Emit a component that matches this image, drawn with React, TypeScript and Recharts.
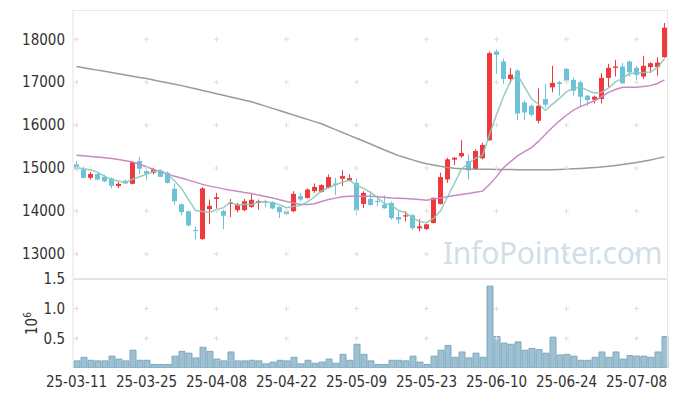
import React from "react";
import { ComposedChart, Bar, Line, XAxis, YAxis, ReferenceDot, ReferenceLine } from "recharts";

const FONT = "'Liberation Sans Narrow', 'DejaVu Sans Condensed', 'Noto Sans', sans-serif";
const RED = "#f0393d";
const BLUE = "#6cc2d8";

const dates = ["25-03-11","25-03-12","25-03-13","25-03-14","25-03-17","25-03-18","25-03-19","25-03-20","25-03-21","25-03-24","25-03-25","25-03-26","25-03-27","25-03-28","25-03-31","25-04-01","25-04-02","25-04-03","25-04-04","25-04-07","25-04-08","25-04-09","25-04-10","25-04-11","25-04-14","25-04-15","25-04-16","25-04-17","25-04-18","25-04-21","25-04-22","25-04-23","25-04-24","25-04-25","25-04-28","25-04-29","25-04-30","25-05-02","25-05-07","25-05-08","25-05-09","25-05-12","25-05-13","25-05-14","25-05-15","25-05-16","25-05-19","25-05-20","25-05-21","25-05-22","25-05-23","25-05-26","25-05-27","25-05-28","25-05-29","25-05-30","25-06-02","25-06-04","25-06-05","25-06-09","25-06-10","25-06-11","25-06-12","25-06-13","25-06-16","25-06-17","25-06-18","25-06-19","25-06-20","25-06-23","25-06-24","25-06-25","25-06-26","25-06-27","25-06-30","25-07-01","25-07-02","25-07-03","25-07-04","25-07-07","25-07-08","25-07-09","25-07-10","25-07-11","25-07-14"];

const tickDates = ["25-03-11","25-03-25","25-04-08","25-04-22","25-05-09","25-05-23","25-06-10","25-06-24","25-07-08"];
const priceTicks = [13000, 14000, 15000, 16000, 17000, 18000];
const volumeTicks = [500000, 1000000, 1500000];

const opens = [15087,14970,14773,14860,14796,14759,14579,14703,14633,15164,
14930,14890,14930,14890,14516,14158,13994,13560,13346,14040,
14280,14000,14170,14020,14020,14095,14189,14228,14210,14090,
13994,13994,14345,14305,14462,14446,14540,14640,14750,14712,
14656,14165,14282,14235,14150,14189,13860,13880,13900,13596,
13580,13720,14165,14735,15195,15273,15164,14970,15227,15648,
17714,17480,17075,17270,16528,16450,16100,16607,16880,16997,
17310,17052,16997,16685,16591,16607,17099,17333,17365,17480,
17333,17130,17350,17350,17580];

const highs = [15164,15030,14906,14876,14843,14782,14672,14735,15164,15257,
14970,15007,14953,14923,14642,14174,14010,13640,14555,14267,
14422,14033,14280,14189,14280,14410,14267,14267,14228,14111,
14033,14462,14422,14525,14640,14625,14852,14773,14953,14852,
14760,14462,14462,14360,14360,14220,13994,13994,13930,13814,
13700,14320,14890,15241,15250,15648,15320,15437,15592,17714,
17761,17543,17333,17300,16568,16475,16855,16958,17382,17030,
17330,17100,17030,16700,16685,17207,17427,17520,17450,17504,
17380,17614,17464,17580,18376];

const lows = [14930,14759,14735,14712,14672,14525,14532,14633,14619,14853,
14712,14853,14789,14642,14150,13900,13643,13340,13330,13700,
13994,13580,13860,13970,13994,14072,14033,14090,14040,13837,
13900,13970,14228,14290,14422,14430,14525,14368,14579,14700,
13900,14072,14120,14111,14050,13800,13697,13760,13560,13526,
13560,13710,14150,14656,15070,15241,14735,14953,15203,15632,
17193,16958,16973,16116,16116,16200,16037,16411,16762,16685,
16997,16685,16450,16450,16505,16505,16880,17130,16958,17130,
16958,17075,17214,17150,17566];

const closes = [14970,14773,14860,14735,14689,14586,14633,14642,15140,14984,
14867,14970,14796,14656,14228,13977,13666,13540,14525,14120,
14320,13890,14190,14150,14228,14260,14228,14200,14060,13970,
13930,14399,14267,14500,14560,14602,14790,14610,14813,14766,
14017,14422,14141,14220,14064,13837,13800,13900,13603,13643,
13690,14305,14790,15203,15241,15351,14946,15398,15538,17675,
17636,17075,17176,16270,16294,16240,16450,16474,16982,16958,
17036,16800,16660,16584,16661,17099,17333,17365,16973,17230,
17170,17380,17441,17457,18268];

const ma5 = [15007,14985,14953,14906,14805,14729,14701,14657,14738,14797,
14853,14921,14951,14855,14703,14525,14265,14013,13987,13966,
14034,14079,14209,14134,14156,14144,14211,14213,14195,14144,
14078,14112,14125,14213,14331,14466,14544,14612,14675,14716,
14599,14526,14432,14313,14173,14137,14012,13964,13841,13757,
13727,13828,14006,14326,14646,14978,15106,15228,15295,15782,
16239,16664,17020,17166,16890,16611,16486,16346,16488,16621,
16780,16850,16887,16808,16748,16761,16867,17008,17086,17200,
17214,17224,17239,17336,17543];

const ma20 = [15297,15285,15270,15255,15241,15220,15200,15170,15140,15090,
15030,14970,14910,14853,14810,14770,14719,14672,14620,14579,
14550,14515,14485,14460,14430,14407,14370,14340,14305,14260,
14220,14189,14150,14150,14170,14220,14267,14300,14330,14345,
14345,14345,14345,14330,14318,14305,14297,14290,14282,14270,
14250,14280,14305,14330,14360,14384,14410,14435,14462,14618,
14800,15007,15150,15281,15380,15475,15620,15788,15950,16100,
16230,16350,16430,16500,16568,16660,16762,16830,16880,16880,
16880,16900,16919,16970,17052];

const ma120 = [17363,17335,17308,17280,17252,17223,17195,17167,17139,17111,
17083,17050,17017,16985,16952,16919,16882,16845,16807,16770,
16732,16694,16656,16619,16581,16544,16493,16442,16390,16339,
16287,16236,16184,16133,16081,16030,15963,15896,15829,15762,
15695,15630,15560,15490,15420,15355,15290,15240,15190,15140,
15100,15070,15040,15015,14995,14985,14978,14975,14972,14970,
14968,14966,14965,14963,14962,14961,14960,14960,14963,14968,
14975,14982,14990,15000,15010,15025,15040,15060,15080,15105,
15130,15160,15190,15225,15260];

const volumes = [120000,180000,130000,120000,120000,200000,150000,120000,300000,130000,
130000,60000,60000,60000,200000,280000,250000,170000,350000,280000,
150000,120000,270000,120000,120000,130000,120000,70000,100000,130000,
120000,180000,70000,130000,80000,100000,150000,80000,230000,130000,
400000,230000,120000,60000,60000,130000,130000,120000,200000,100000,
60000,200000,300000,380000,180000,270000,170000,250000,180000,1380000,
530000,420000,400000,440000,300000,330000,310000,250000,520000,220000,
230000,200000,130000,130000,180000,270000,180000,270000,150000,210000,
200000,200000,180000,270000,530000];

const rows = dates.map((date, i) => ({
  date,
  open: opens[i],
  high: highs[i],
  low: lows[i],
  close: closes[i],
  range: [lows[i], highs[i]],
  ma5: ma5[i],
  ma20: ma20[i],
  ma120: ma120[i],
  volume: volumes[i],
}));

const Candle = (props: any) => {
  const { x, y, width, height, payload } = props;
  if (x == null || y == null || !payload) return null;
  const { open, close, high, low } = payload;
  const top = Math.min(y, y + height);
  const h = Math.abs(height);
  const k = high - low !== 0 ? h / (high - low) : 0;
  const yOf = (v: number) => top + (high - v) * k;
  const up = close >= open;
  const color = up ? RED : BLUE;
  const bTop = yOf(Math.max(open, close));
  const bBot = yOf(Math.min(open, close));
  const cx = x + width / 2;
  return (
    <g>
      <line x1={cx} x2={cx} y1={top} y2={top + h} stroke={color} strokeWidth={1} />
      <rect x={x} y={bTop} width={width} height={Math.max(1.2, bBot - bTop)} fill={color} />
    </g>
  );
};

const Plus = (p: any) => {
  const { cx, cy } = p;
  if (cx == null || cy == null) return null;
  return (
    <g stroke="#dedede" strokeWidth={1}>
      <line x1={cx - 2.5} x2={cx + 2.5} y1={cy} y2={cy} />
      <line x1={cx} x2={cx} y1={cy - 2.5} y2={cy + 2.5} />
    </g>
  );
};

const tickStyle = { fontSize: 15, fill: "#333", fontFamily: FONT };

export default function App() {
  return (
    <div style={{ position: "absolute", left: 0, top: 0, width: 677, height: 396, background: "#fff", overflow: "hidden" }}>
      <div
        style={{
          position: "absolute",
          left: 443,
          top: 232,
          fontFamily: "'Noto Sans', 'Open Sans', sans-serif",
          fontSize: 30,
          color: "rgba(165,195,212,0.55)",
          whiteSpace: "nowrap",
          letterSpacing: -0.3,
        }}
      >
        InfoPointer.com
      </div>
      <div style={{ position: "absolute", left: 0, top: 0 }}>
        <ComposedChart width={677} height={279} data={rows} margin={{ top: 10, right: 9, bottom: 1, left: 0 }}>
          <XAxis dataKey="date" hide />
          <YAxis
            domain={[12440, 18680]}
            ticks={priceTicks}
            allowDataOverflow
            width={73}
            tickLine={false}
            axisLine={{ stroke: "#e2e2e2" }}
            tick={tickStyle}
          />
          {tickDates.map((d) =>
            priceTicks.map((v) => (
              <ReferenceDot key={d + v} x={d} y={v} r={2} shape={Plus} ifOverflow="visible" />
            ))
          )}
          <Bar dataKey="range" barSize={5} shape={Candle} isAnimationActive={false} />
          <Line type="linear" dataKey="ma120" stroke="#9a9a9a" strokeWidth={1.5} dot={false} isAnimationActive={false} />
          <Line type="linear" dataKey="ma20" stroke="#c98ac3" strokeWidth={1.5} dot={false} isAnimationActive={false} />
          <Line type="linear" dataKey="ma5" stroke="#86c9ba" strokeOpacity={0.9} strokeWidth={1.5} dot={false} isAnimationActive={false} />
        </ComposedChart>
      </div>
      <div style={{ position: "absolute", left: 0, top: 260 }}>
        <ComposedChart width={677} height={136} data={rows} margin={{ top: 19, right: 9, bottom: 0, left: 0 }}>
          <XAxis
            dataKey="date"
            ticks={tickDates}
            interval={0}
            tickLine={false}
            axisLine={false}
            height={28}
            tick={tickStyle}
          />
          <YAxis
            domain={[0, 1500000]}
            ticks={volumeTicks}
            allowDataOverflow
            width={73}
            tickLine={false}
            axisLine={{ stroke: "#e2e2e2" }}
            tick={tickStyle}
            tickFormatter={(v: number) => (v / 1000000).toFixed(1)}
          />
          <ReferenceLine y={1500000} stroke="#e4e4e4" strokeWidth={2} ifOverflow="visible" />
          {tickDates.map((d) =>
            [500000, 1000000].map((v) => (
              <ReferenceDot key={d + v} x={d} y={v} r={2} shape={Plus} ifOverflow="visible" />
            ))
          )}
          <Bar dataKey="volume" barSize={6} fill="#9dc0d2" stroke="#7ea8be" strokeWidth={1} isAnimationActive={false} />
        </ComposedChart>
      </div>
      <div
        style={{
          position: "absolute",
          left: 73,
          top: 10,
          width: 595,
          height: 358,
          borderTop: "1px solid #e8e8e8",
          borderRight: "1px solid #e8e8e8",
          boxSizing: "border-box",
          pointerEvents: "none",
        }}
      />
      <svg style={{ position: "absolute", left: 20, top: 295, overflow: "visible" }} width={30} height={50}>
        <text
          transform="translate(17,40) rotate(-90)"
          fontFamily={FONT}
          fontSize={15}
          fill="#333"
        >
          10
          <tspan dy={-6} fontSize={10}>6</tspan>
        </text>
      </svg>
    </div>
  );
}
